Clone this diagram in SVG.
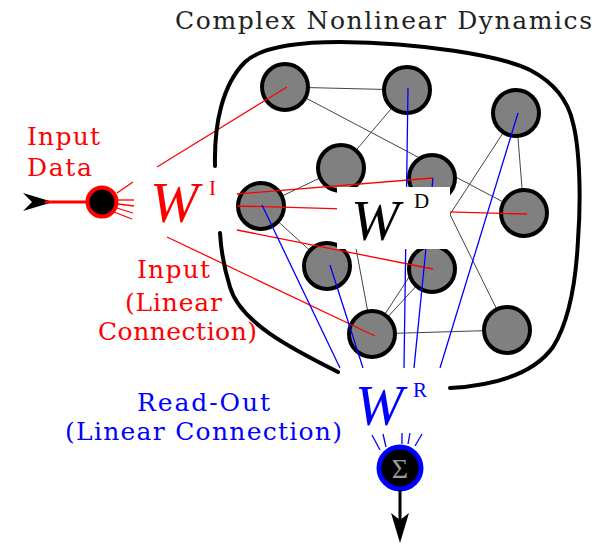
<svg xmlns="http://www.w3.org/2000/svg" width="598" height="545" viewBox="0 0 598 545">
<style>
.g{stroke:#444;stroke-width:1;fill:none}
.r{stroke:#ff0000;stroke-width:1.3;fill:none}
.b{stroke:#0000ff;stroke-width:1.3;fill:none}
.n{fill:#808080;stroke:#000;stroke-width:4}
.t{font-family:"DejaVu Serif","Liberation Serif",serif;font-size:25px}
.w{font-family:"Liberation Serif","DejaVu Serif",serif;font-style:italic;font-size:58px}
.s{font-family:"Liberation Serif","DejaVu Serif",serif;font-size:21px}
</style>
<rect width="598" height="545" fill="#fff"/>
<g id="connectors">
<g id="gray-links">
<line class="g" x1="285" y1="87" x2="407" y2="90"/>
<line class="g" x1="285" y1="87" x2="524" y2="213"/>
<line class="g" x1="407" y1="90" x2="341" y2="168"/>
<line class="g" x1="341" y1="168" x2="261" y2="206"/>
<line class="g" x1="516" y1="113" x2="524" y2="213"/>
<line class="g" x1="516" y1="113" x2="372" y2="334"/>
<line class="g" x1="341" y1="168" x2="372" y2="334"/>
<line class="g" x1="432" y1="178" x2="507" y2="330"/>
<line class="g" x1="261" y1="206" x2="327" y2="266"/>
<line class="g" x1="432" y1="269" x2="372" y2="334"/>
<line class="g" x1="372" y1="334" x2="507" y2="330"/>
</g>
</g>
<g id="nodes">
<g id="n1"><circle class="n" cx="285" cy="87" r="23"/></g>
<g id="n2"><circle class="n" cx="407" cy="90" r="23"/></g>
<g id="n3"><circle class="n" cx="516" cy="113" r="23"/></g>
<g id="n4"><circle class="n" cx="341" cy="168" r="23"/></g>
<g id="n5"><circle class="n" cx="432" cy="178" r="23"/></g>
<g id="n6"><circle class="n" cx="261" cy="206" r="23"/></g>
<g id="n7"><circle class="n" cx="524" cy="213" r="23"/></g>
<g id="n8"><circle class="n" cx="327" cy="266" r="23"/></g>
<g id="n9"><circle class="n" cx="432" cy="269" r="23"/></g>
<g id="n10"><circle class="n" cx="372" cy="334" r="23"/></g>
<g id="n11"><circle class="n" cx="507" cy="330" r="23"/></g>
</g>
<g id="weights">
<g id="input-links">
<line class="r" x1="157" y1="167" x2="287" y2="87"/>
<line class="r" x1="237" y1="194" x2="433" y2="178"/>
<line class="r" x1="237" y1="206" x2="527" y2="214"/>
<line class="r" x1="237" y1="230" x2="433" y2="269"/>
<line class="r" x1="167" y1="237" x2="375" y2="336"/>
<line class="r" x1="117" y1="193" x2="133" y2="182"/>
<line class="r" x1="118" y1="200" x2="134" y2="200"/>
<line class="r" x1="118" y1="204" x2="134" y2="206"/>
<line class="r" x1="117" y1="208" x2="133" y2="213"/>
<line class="r" x1="114" y1="212" x2="132" y2="219"/>
</g>
<g id="readout-links">
<line class="b" x1="262" y1="205" x2="340" y2="368"/>
<line class="b" x1="330" y1="265" x2="363" y2="368"/>
<line class="b" x1="408" y1="88" x2="404" y2="368"/>
<line class="b" x1="433" y1="178" x2="414" y2="368"/>
<line class="b" x1="518" y1="113" x2="440" y2="368"/>
<line class="b" x1="380" y1="450" x2="372" y2="435"/>
<line class="b" x1="386" y1="447" x2="383" y2="434"/>
<line class="b" x1="402" y1="444" x2="402" y2="433"/>
<line class="b" x1="408" y1="444" x2="410" y2="433"/>
<line class="b" x1="415" y1="446" x2="422" y2="434"/>
</g>
</g>
<rect x="337" y="187" width="113" height="62" fill="#fff"/>
<g id="boundary" fill="none" stroke="#000" stroke-width="4" stroke-linecap="round">
<path d="M338,372 C290,348 240,322 230,287 C224,268 221,250 220,233"/>
<path d="M215,166 C214,125 222,85 245,62 C262,46 300,42 340,42 C420,43 500,55 530,70 C553,82 568,100 573,123 C580,150 581,200 578,240 C576,280 570,320 553,347 C535,372 500,385 450,388"/>
</g>
<g id="input-neuron">
<path d="M23,193 L53,202 L23,211 L32,202 Z" fill="#000"/>
<line x1="45" y1="202" x2="88" y2="202" stroke="#ff0000" stroke-width="3"/>
<circle cx="102" cy="202" r="14.5" fill="#000" stroke="#ff0000" stroke-width="4"/>
</g>
<g id="output-neuron">
<circle cx="400" cy="468" r="21" fill="#000" stroke="#0000ff" stroke-width="5"/>
<text x="400" y="478" text-anchor="middle" fill="#999" font-family="Liberation Serif, serif" font-size="28">Σ</text>
<line x1="400" y1="490" x2="400" y2="525" stroke="#000" stroke-width="3"/>
<path d="M400,543 L391,513 L400,520 L409,513 Z" fill="#000"/>
</g>
<g id="labels">
<text class="t" x="175" y="29" fill="#222" textLength="417">Complex Nonlinear Dynamics</text>
<text class="t" x="27" y="145" fill="#ff0000" textLength="73">Input</text>
<text class="t" x="27" y="176" fill="#ff0000" textLength="65">Data</text>
<text class="t" x="137" y="278" fill="#ff0000" textLength="73">Input</text>
<text class="t" x="125" y="311" fill="#ff0000" textLength="97">(Linear</text>
<text class="t" x="98" y="340" fill="#ff0000" textLength="159">Connection)</text>
<text class="t" x="137" y="411" fill="#0000ff" font-size="24" textLength="133">Read-Out</text>
<text class="t" x="65" y="440" fill="#0000ff" font-size="24" textLength="277">(Linear Connection)</text>
<g id="w-input"><text class="w" x="150" y="222" fill="#ff0000">W</text><text class="s" x="209" y="195" fill="#ff0000">I</text></g>
<g id="w-dynamics"><text class="w" x="351" y="240" fill="#000">W</text><text class="s" x="414" y="208" fill="#000">D</text></g>
<g id="w-readout"><text class="w" x="355" y="425" fill="#0000ff">W</text><text class="s" x="413" y="397" fill="#0000ff">R</text></g>
</g>
</svg>
